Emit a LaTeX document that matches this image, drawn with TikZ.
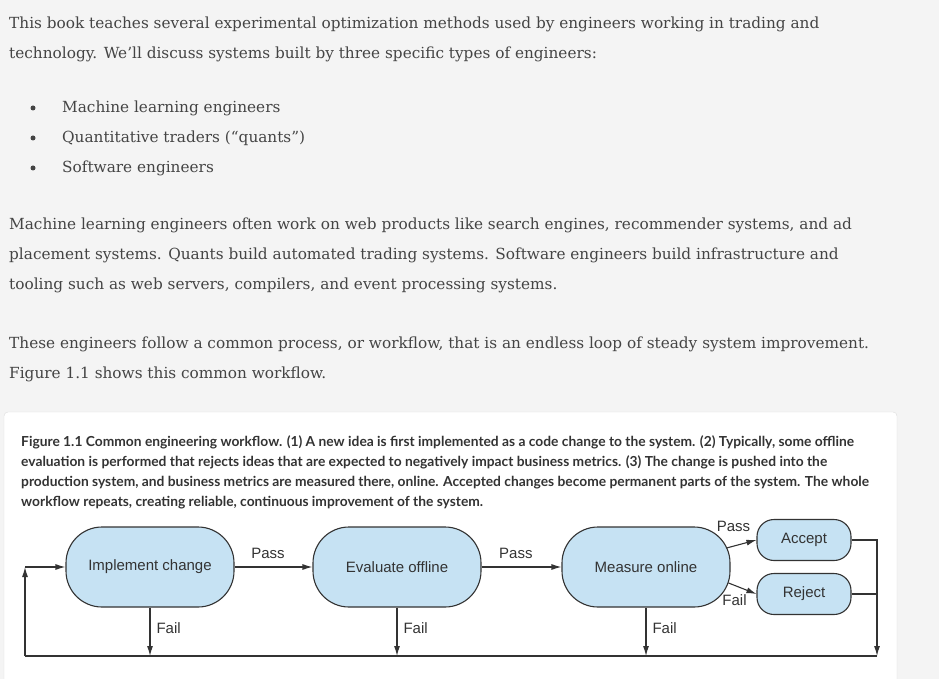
\documentclass[tikz,border=0pt]{standalone}
\usepackage{fontspec}
\setmainfont{DejaVu Serif}
\newfontfamily\capfont{Lato}
\newfontfamily\figfont{Liberation Sans}
\usetikzlibrary{arrows.meta}
\definecolor{pagebg}{HTML}{F4F4F4}
\definecolor{bodytext}{HTML}{444444}
\definecolor{captext}{HTML}{333333}
\definecolor{stepfill}{HTML}{C6E2F3}
\definecolor{wire}{HTML}{333333}
\definecolor{cardline}{HTML}{DDDDDD}

\begin{document}
\begin{tikzpicture}[x=1pt, y=-1pt,
    bodyline/.style={anchor=base west, inner sep=0pt, text=bodytext, font=\fontsize{15.3}{18}\selectfont},
    capline/.style={anchor=base west, inner sep=0pt, text=captext, font=\capfont\bfseries\fontsize{13.8}{16}\selectfont},
    bigstep/.style={draw=wire, fill=stepfill, line width=1.1pt, rounded corners=36pt, minimum width=168pt, minimum height=80pt, text=captext, font=\figfont\fontsize{15}{18}\selectfont},
    smallstep/.style={draw=wire, fill=stepfill, line width=1.1pt, rounded corners=17pt, minimum width=94pt, minimum height=41pt, text=captext, font=\figfont\fontsize{15}{18}\selectfont},
    flow/.style={draw=wire, line width=1.1pt, -{Latex[length=10pt, width=6pt]}},
    plain/.style={draw=wire, line width=1.1pt},
    lbl/.style={inner sep=2pt, text=captext, font=\figfont\fontsize{15}{18}\selectfont}]
    \useasboundingbox (0,0) rectangle (939,679);
    \fill[pagebg] (0,0) rectangle (939,679);
    % page text
    \foreach \nm/\yy/\txt in {p1a/29/{This book teaches several experimental optimization methods used by engineers working in trading and},
        p1b/59/{technology. We’ll discuss systems built by three specific types of engineers:},
        p2a/229/{Machine learning engineers often work on web products like search engines, recommender systems, and ad},
        p2b/259/{placement systems. Quants build automated trading systems. Software engineers build infrastructure and},
        p2c/289/{tooling such as web servers, compilers, and event processing systems.},
        p3a/348/{These engineers follow a common process, or workflow, that is an endless loop of steady system improvement.},
        p3b/378/{Figure 1.1 shows this common workflow.}} {
        \node[bodyline] (\nm) at (9,\yy) {\txt};
    }
    \foreach \nm/\yy/\txt in {b1/113/Machine learning engineers, b2/143/Quantitative traders (“quants”), b3/173/Software engineers} {
        \fill[bodytext] (33,{\yy-5}) circle (2.5pt);
        \node[bodyline] (\nm) at (62,\yy) {\txt};
    }
    % figure card
    \filldraw[fill=white, draw=cardline, rounded corners=4pt] (4,412) rectangle (897,700);
    \foreach \nm/\yy/\txt in {c1/446/{Figure 1.1 Common engineering workflow. (1) A new idea is first implemented as a code change to the system. (2) Typically, some offline},
        c2/466/{evaluation is performed that rejects ideas that are expected to negatively impact business metrics. (3) The change is pushed into the},
        c3/486/{production system, and business metrics are measured there, online. Accepted changes become permanent parts of the system. The whole},
        c4/506/{workflow repeats, creating reliable, continuous improvement of the system.}} {
        \node[capline] (\nm) at (21,\yy) {\txt};
    }
    % workflow
    \node[bigstep] (impl) at (150,567) {Implement change};
    \node[bigstep] (eval) at (397,567) {Evaluate offline};
    \node[bigstep] (meas) at (646,567) {Measure online};
    \node[smallstep] (acc) at (804,540) {Accept};
    \node[smallstep] (rej) at (804,594) {Reject};
    \coordinate (loopL) at (25,656);
    \coordinate (loopR) at (877,656);
    \coordinate (loopT) at (25,567);

    \draw[flow] (impl) -- (eval) node[lbl, pos=0.43, above=6pt] {Pass};
    \draw[flow] (eval) -- (meas) node[lbl, pos=0.43, above=6pt] {Pass};
    \draw[flow] ([xshift=-4pt, yshift=19pt]meas.east) -- (acc.west) node[lbl, at start, above=14pt, xshift=7pt] {Pass};
    \draw[flow] ([xshift=-2pt, yshift=-16pt]meas.east) -- (rej.west) node[lbl, at start, below=9pt, xshift=6pt] {Fail};
    \foreach \st in {impl, eval, meas} {
        \draw[flow] (\st.south) -- (\st.south |- loopL) node[lbl, pos=0.43, right=4pt] {Fail};
    }
    \draw[flow] (acc.east) -| (loopR);
    \draw[plain] (rej.east) -- (rej.east -| loopR);
    \draw[plain] (loopR) -- (loopL);
    \draw[flow] (loopL) -- (loopT);
    \draw[flow] (loopT) -- (impl.west);
\end{tikzpicture}
\end{document}
